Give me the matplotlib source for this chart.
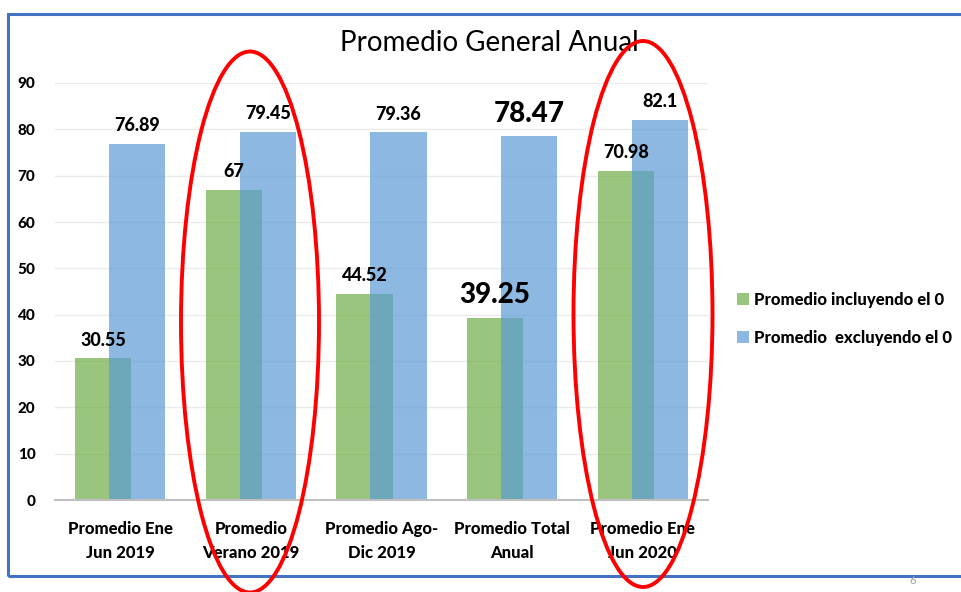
import matplotlib.pyplot as plt
from matplotlib.patches import Ellipse, Rectangle
import numpy as np

plt.rcParams['font.family'] = ['Lato', 'DejaVu Sans']

# Data
categories = ['Promedio Ene\nJun 2019', 'Promedio\nVerano 2019', 'Promedio Ago-\nDic 2019',
              'Promedio Total\nAnual', 'Promedio Ene\nJun 2020']
incluyendo = [30.55, 67, 44.52, 39.25, 70.98]
excluyendo = [76.89, 79.45, 79.36, 78.47, 82.1]
label_sizes_inc = [13, 13, 13, 20, 13]
label_sizes_exc = [13, 13, 13, 20, 13]

green = '#70AD47'
blue = '#5B9BD5'

fig = plt.figure(figsize=(9.62, 5.92), dpi=100)
ax = fig.add_axes([55 / 962, 1 - 500 / 592, (708 - 55) / 962, (500 - 83) / 592])

x = np.arange(len(categories))
w = 0.43
off = 0.13
b1 = ax.bar(x - off, incluyendo, w, color=green, alpha=0.7, zorder=2,
            label='Promedio incluyendo el 0')
b2 = ax.bar(x + off, excluyendo, w, color=blue, alpha=0.7, zorder=3,
            label='Promedio  excluyendo el 0')

# Data labels
for xi, v, s in zip(x - off, incluyendo, label_sizes_inc):
    ax.annotate(f'{v:g}', (xi, v), xytext=(0, 7), textcoords='offset points',
                ha='center', va='bottom', fontsize=s, fontweight='black', zorder=5)
for xi, v, s in zip(x + off, excluyendo, label_sizes_exc):
    ax.annotate(f'{v:g}', (xi, v), xytext=(0, 7), textcoords='offset points',
                ha='center', va='bottom', fontsize=s, fontweight='black', zorder=5)

ax.set_ylim(0, 90)
ax.set_xlim(-0.5, len(categories) - 0.5)
ax.set_yticks(range(0, 91, 10))
ax.set_xticks(x)
ax.set_xticklabels(categories, fontsize=12, fontweight='black', linespacing=1.6)
for lab in ax.get_yticklabels():
    lab.set_fontweight('black')
    lab.set_fontsize(11)
ax.tick_params(axis='y', length=0, pad=14)
ax.tick_params(axis='x', length=0, pad=15)
ax.grid(axis='y', color='#ebebeb', linewidth=1, zorder=0)
for sp in ['top', 'right', 'left']:
    ax.spines[sp].set_visible(False)
ax.spines['bottom'].set_color('#bfbfbf')
ax.spines['bottom'].set_linewidth(1.5)
ax.spines['bottom'].set_zorder(4)

fig.text(489 / 962, 1 - 43 / 592, 'Promedio General Anual', ha='center', va='center',
         fontsize=20)

leg = fig.legend(handles=[b1, b2], loc='center left', bbox_to_anchor=(722 / 962, 1 - 319 / 592),
                 frameon=False, fontsize=12, handlelength=0.7, handleheight=0.7,
                 handletextpad=0.3, labelspacing=1.3)
for t in leg.get_texts():
    t.set_fontweight('black')

# Slide border and annotations
fig.patches.append(Rectangle((8 / 962, 1 - 576 / 592), 1.0, (576 - 14) / 592,
                             transform=fig.transFigure, fill=False, edgecolor='#4472C4',
                             linewidth=2.2, clip_on=False))
fig.patches.append(Ellipse((250 / 962, 1 - 322 / 592), 138 / 962, 541 / 592,
                           transform=fig.transFigure, fill=False, edgecolor='#FF0000',
                           linewidth=2.8, zorder=10))
fig.patches.append(Ellipse((643 / 962, 1 - 314 / 592), 139 / 962, 546 / 592,
                           transform=fig.transFigure, fill=False, edgecolor='#FF0000',
                           linewidth=2.8, zorder=10))
fig.text(913 / 962, 1 - 581 / 592, '6', ha='center', va='center', fontsize=8, color='#a0a0a0')

fig.savefig('out.png', dpi=100)
